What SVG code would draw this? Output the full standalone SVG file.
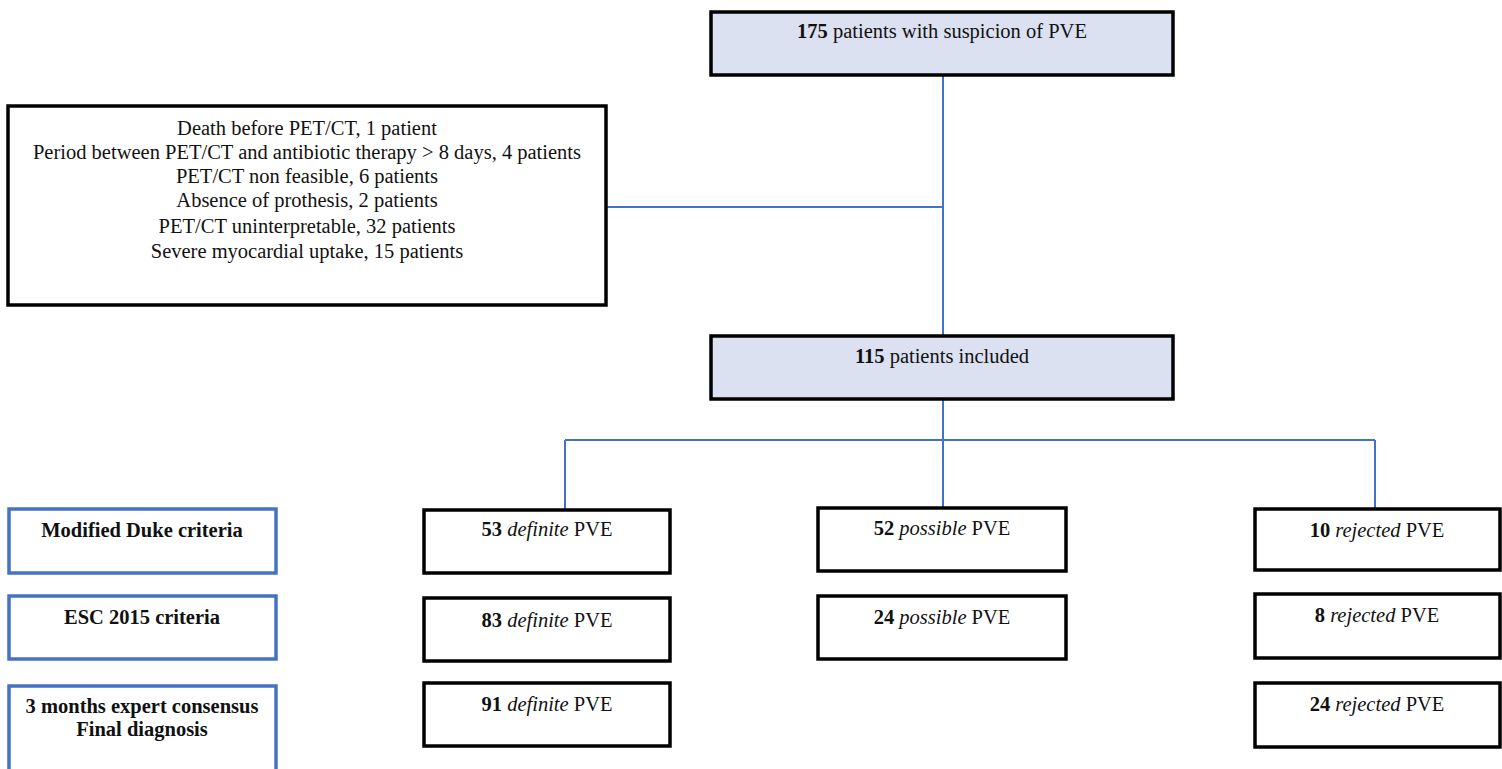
<svg xmlns="http://www.w3.org/2000/svg" width="1502" height="769" viewBox="0 0 1502 769">
<style>
text{font-family:"Liberation Serif","Times New Roman",serif;font-size:20.5px;fill:#111;text-anchor:middle}
.b{font-weight:bold}
.i{font-style:italic}
.main{fill:#dbe1f1;stroke:#000;stroke-width:3.5}
.box{fill:#fff;stroke:#000;stroke-width:3.5}
.crit{fill:#fff;stroke:#4472c4;stroke-width:3.5}
.conn{fill:none;stroke:#4472c4;stroke-width:2}
</style>
<rect width="1502" height="769" fill="#fff"/>
<g id="connectors">
<path class="conn" d="M943 75V337"/>
<path class="conn" d="M607 207H943"/>
<path class="conn" d="M943 399V508"/>
<path class="conn" d="M565 440H1375"/>
<path class="conn" d="M565 440V510"/>
<path class="conn" d="M1375 440V508"/>
</g>
<g id="n175"><rect class="main" x="711" y="12" width="462" height="63"/><text x="942" y="38"><tspan class="b">175</tspan> patients with suspicion of PVE</text></g>
<g id="excluded"><rect class="box" x="8" y="106" width="598" height="199"/>
<text x="307" y="135">Death before PET/CT, 1 patient</text>
<text x="307" y="159">Period between PET/CT and antibiotic therapy &gt; 8 days, 4 patients</text>
<text x="307" y="183">PET/CT non feasible, 6 patients</text>
<text x="307" y="207">Absence of prothesis, 2 patients</text>
<text x="307" y="233">PET/CT uninterpretable, 32 patients</text>
<text x="307" y="258">Severe myocardial uptake, 15 patients</text>
</g>
<g id="n115"><rect class="main" x="711" y="336" width="462" height="63"/><text x="942" y="363"><tspan class="b">115</tspan> patients included</text></g>
<g id="duke"><rect class="crit" x="9" y="509" width="267" height="64"/><text class="b" x="142" y="537">Modified Duke criteria</text></g>
<g id="esc"><rect class="crit" x="9" y="596" width="267" height="63"/><text class="b" x="142" y="624">ESC 2015 criteria</text></g>
<g id="expert"><rect class="crit" x="9" y="686" width="267" height="90"/><text class="b" x="142" y="713">3 months expert consensus</text><text class="b" x="142" y="736">Final diagnosis</text></g>
<g id="d53"><rect class="box" x="424" y="510" width="246" height="63"/><text x="547" y="536"><tspan class="b">53</tspan> <tspan class="i">definite</tspan> PVE</text></g>
<g id="d83"><rect class="box" x="424" y="598" width="246" height="63"/><text x="547" y="627"><tspan class="b">83</tspan> <tspan class="i">definite</tspan> PVE</text></g>
<g id="d91"><rect class="box" x="424" y="683" width="246" height="63"/><text x="547" y="711"><tspan class="b">91</tspan> <tspan class="i">definite</tspan> PVE</text></g>
<g id="p52"><rect class="box" x="818" y="508" width="248" height="63"/><text x="942" y="535"><tspan class="b">52</tspan> <tspan class="i">possible</tspan> PVE</text></g>
<g id="p24"><rect class="box" x="818" y="596" width="248" height="63"/><text x="942" y="624"><tspan class="b">24</tspan> <tspan class="i">possible</tspan> PVE</text></g>
<g id="r10"><rect class="box" x="1255" y="509" width="245" height="61"/><text x="1377" y="537"><tspan class="b">10</tspan> <tspan class="i">rejected</tspan> PVE</text></g>
<g id="r8"><rect class="box" x="1255" y="594" width="245" height="64"/><text x="1377" y="622"><tspan class="b">8</tspan> <tspan class="i">rejected</tspan> PVE</text></g>
<g id="r24"><rect class="box" x="1255" y="683" width="245" height="64"/><text x="1377" y="711"><tspan class="b">24</tspan> <tspan class="i">rejected</tspan> PVE</text></g>
</svg>
